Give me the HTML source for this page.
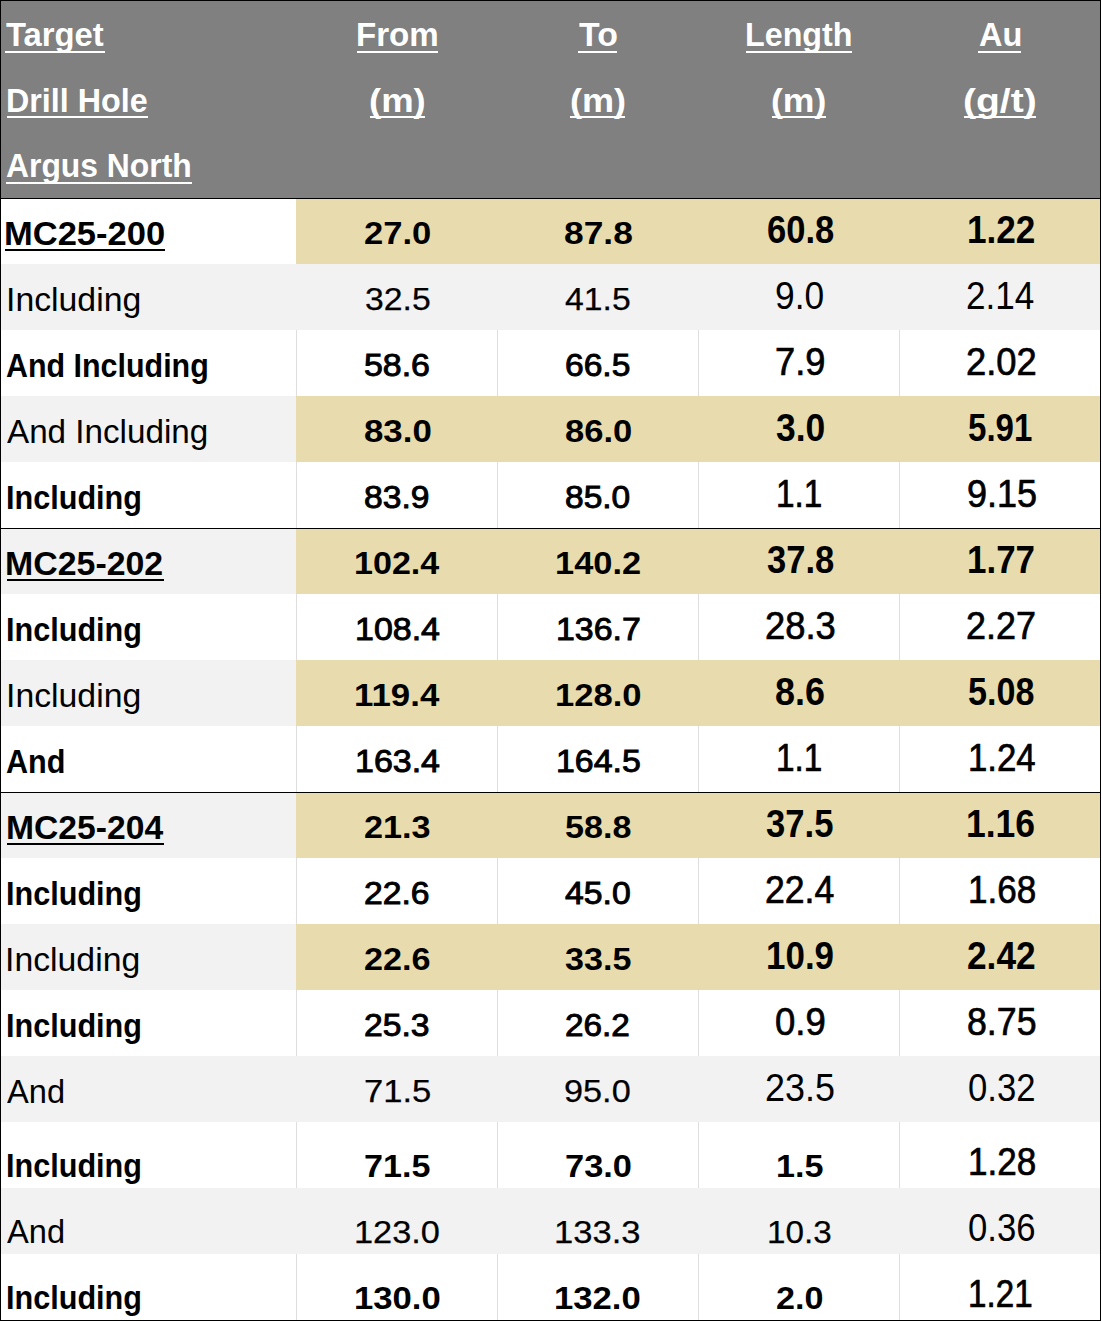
<!DOCTYPE html>
<html><head><meta charset="utf-8"><style>
html,body{margin:0;padding:0;background:#fff;width:1102px;height:1322px;overflow:hidden;}
body{position:relative;font-family:"Liberation Sans",sans-serif;}
.b{position:absolute;}
.t{position:absolute;white-space:nowrap;height:0;line-height:0;transform-origin:0 0;}
</style></head><body>
<div class="b" style="left:0;top:0;width:1101px;height:198px;background:#808080"></div>
<div class="b" style="left:1px;top:198px;width:295px;height:66px;background:#FFFFFF"></div>
<div class="b" style="left:296px;top:198px;width:804px;height:66px;background:#E8DBAD"></div>
<div class="b" style="left:1px;top:264px;width:295px;height:66px;background:#F2F2F2"></div>
<div class="b" style="left:296px;top:264px;width:804px;height:66px;background:#F2F2F2"></div>
<div class="b" style="left:1px;top:330px;width:295px;height:66px;background:#FFFFFF"></div>
<div class="b" style="left:296px;top:330px;width:804px;height:66px;background:#FFFFFF"></div>
<div class="b" style="left:296px;top:330px;width:1px;height:66px;background:#DEDEDE"></div>
<div class="b" style="left:497px;top:330px;width:1px;height:66px;background:#DEDEDE"></div>
<div class="b" style="left:698px;top:330px;width:1px;height:66px;background:#DEDEDE"></div>
<div class="b" style="left:899px;top:330px;width:1px;height:66px;background:#DEDEDE"></div>
<div class="b" style="left:1px;top:396px;width:295px;height:66px;background:#F2F2F2"></div>
<div class="b" style="left:296px;top:396px;width:804px;height:66px;background:#E8DBAD"></div>
<div class="b" style="left:1px;top:462px;width:295px;height:66px;background:#FFFFFF"></div>
<div class="b" style="left:296px;top:462px;width:804px;height:66px;background:#FFFFFF"></div>
<div class="b" style="left:296px;top:462px;width:1px;height:66px;background:#DEDEDE"></div>
<div class="b" style="left:497px;top:462px;width:1px;height:66px;background:#DEDEDE"></div>
<div class="b" style="left:698px;top:462px;width:1px;height:66px;background:#DEDEDE"></div>
<div class="b" style="left:899px;top:462px;width:1px;height:66px;background:#DEDEDE"></div>
<div class="b" style="left:1px;top:528px;width:295px;height:66px;background:#F2F2F2"></div>
<div class="b" style="left:296px;top:528px;width:804px;height:66px;background:#E8DBAD"></div>
<div class="b" style="left:1px;top:594px;width:295px;height:66px;background:#FFFFFF"></div>
<div class="b" style="left:296px;top:594px;width:804px;height:66px;background:#FFFFFF"></div>
<div class="b" style="left:296px;top:594px;width:1px;height:66px;background:#DEDEDE"></div>
<div class="b" style="left:497px;top:594px;width:1px;height:66px;background:#DEDEDE"></div>
<div class="b" style="left:698px;top:594px;width:1px;height:66px;background:#DEDEDE"></div>
<div class="b" style="left:899px;top:594px;width:1px;height:66px;background:#DEDEDE"></div>
<div class="b" style="left:1px;top:660px;width:295px;height:66px;background:#F2F2F2"></div>
<div class="b" style="left:296px;top:660px;width:804px;height:66px;background:#E8DBAD"></div>
<div class="b" style="left:1px;top:726px;width:295px;height:66px;background:#FFFFFF"></div>
<div class="b" style="left:296px;top:726px;width:804px;height:66px;background:#FFFFFF"></div>
<div class="b" style="left:296px;top:726px;width:1px;height:66px;background:#DEDEDE"></div>
<div class="b" style="left:497px;top:726px;width:1px;height:66px;background:#DEDEDE"></div>
<div class="b" style="left:698px;top:726px;width:1px;height:66px;background:#DEDEDE"></div>
<div class="b" style="left:899px;top:726px;width:1px;height:66px;background:#DEDEDE"></div>
<div class="b" style="left:1px;top:792px;width:295px;height:66px;background:#F2F2F2"></div>
<div class="b" style="left:296px;top:792px;width:804px;height:66px;background:#E8DBAD"></div>
<div class="b" style="left:1px;top:858px;width:295px;height:66px;background:#FFFFFF"></div>
<div class="b" style="left:296px;top:858px;width:804px;height:66px;background:#FFFFFF"></div>
<div class="b" style="left:296px;top:858px;width:1px;height:66px;background:#DEDEDE"></div>
<div class="b" style="left:497px;top:858px;width:1px;height:66px;background:#DEDEDE"></div>
<div class="b" style="left:698px;top:858px;width:1px;height:66px;background:#DEDEDE"></div>
<div class="b" style="left:899px;top:858px;width:1px;height:66px;background:#DEDEDE"></div>
<div class="b" style="left:1px;top:924px;width:295px;height:66px;background:#F2F2F2"></div>
<div class="b" style="left:296px;top:924px;width:804px;height:66px;background:#E8DBAD"></div>
<div class="b" style="left:1px;top:990px;width:295px;height:66px;background:#FFFFFF"></div>
<div class="b" style="left:296px;top:990px;width:804px;height:66px;background:#FFFFFF"></div>
<div class="b" style="left:296px;top:990px;width:1px;height:66px;background:#DEDEDE"></div>
<div class="b" style="left:497px;top:990px;width:1px;height:66px;background:#DEDEDE"></div>
<div class="b" style="left:698px;top:990px;width:1px;height:66px;background:#DEDEDE"></div>
<div class="b" style="left:899px;top:990px;width:1px;height:66px;background:#DEDEDE"></div>
<div class="b" style="left:1px;top:1056px;width:295px;height:66px;background:#F2F2F2"></div>
<div class="b" style="left:296px;top:1056px;width:804px;height:66px;background:#F2F2F2"></div>
<div class="b" style="left:1px;top:1122px;width:295px;height:66px;background:#FFFFFF"></div>
<div class="b" style="left:296px;top:1122px;width:804px;height:66px;background:#FFFFFF"></div>
<div class="b" style="left:296px;top:1122px;width:1px;height:66px;background:#DEDEDE"></div>
<div class="b" style="left:497px;top:1122px;width:1px;height:66px;background:#DEDEDE"></div>
<div class="b" style="left:698px;top:1122px;width:1px;height:66px;background:#DEDEDE"></div>
<div class="b" style="left:899px;top:1122px;width:1px;height:66px;background:#DEDEDE"></div>
<div class="b" style="left:1px;top:1188px;width:295px;height:66px;background:#F2F2F2"></div>
<div class="b" style="left:296px;top:1188px;width:804px;height:66px;background:#F2F2F2"></div>
<div class="b" style="left:1px;top:1254px;width:295px;height:66px;background:#FFFFFF"></div>
<div class="b" style="left:296px;top:1254px;width:804px;height:66px;background:#FFFFFF"></div>
<div class="b" style="left:296px;top:1254px;width:1px;height:66px;background:#DEDEDE"></div>
<div class="b" style="left:497px;top:1254px;width:1px;height:66px;background:#DEDEDE"></div>
<div class="b" style="left:698px;top:1254px;width:1px;height:66px;background:#DEDEDE"></div>
<div class="b" style="left:899px;top:1254px;width:1px;height:66px;background:#DEDEDE"></div>
<div class="b" style="left:0;top:0px;width:1101px;height:1px;background:#000"></div>
<div class="b" style="left:0;top:198px;width:1101px;height:1px;background:#000"></div>
<div class="b" style="left:0;top:528px;width:1101px;height:1px;background:#000"></div>
<div class="b" style="left:0;top:792px;width:1101px;height:1px;background:#000"></div>
<div class="b" style="left:0;top:1320px;width:1101px;height:1px;background:#000"></div>
<div class="b" style="left:0px;top:0;width:1px;height:1321px;background:#000"></div>
<div class="b" style="left:1100px;top:0;width:1px;height:1321px;background:#000"></div>
<div class="t" style="left:6.40px;top:35.37px;font-size:33.00px;font-weight:700;color:#fff;transform:scaleX(0.9936);">Target</div>
<div class="b" style="left:5.4px;top:51px;width:99.6px;height:2px;background:#fff"></div>
<div class="t" style="left:6.18px;top:101.07px;font-size:33.00px;font-weight:700;color:#fff;transform:scaleX(0.9778);">Drill Hole</div>
<div class="b" style="left:7.2px;top:116px;width:140.8px;height:2px;background:#fff"></div>
<div class="t" style="left:6.40px;top:166.47px;font-size:33.00px;font-weight:700;color:#fff;transform:scaleX(0.9651);">Argus North</div>
<div class="b" style="left:5.9px;top:182px;width:185.7px;height:2px;background:#fff"></div>
<div class="t" style="left:355.93px;top:35.37px;font-size:33.00px;font-weight:700;color:#fff;transform:scaleX(1.0037);">From</div>
<div class="b" style="left:357.0px;top:51px;width:80.7px;height:2px;background:#fff"></div>
<div class="t" style="left:368.79px;top:101.07px;font-size:33.00px;font-weight:700;color:#fff;transform:scaleX(1.1055);">(m)</div>
<div class="b" style="left:369.5px;top:116px;width:55.7px;height:2px;background:#fff"></div>
<div class="t" style="left:578.70px;top:35.37px;font-size:33.00px;font-weight:700;color:#fff;transform:scaleX(1.0250);">To</div>
<div class="b" style="left:577.7px;top:51px;width:39.7px;height:2px;background:#fff"></div>
<div class="t" style="left:569.71px;top:101.07px;font-size:33.00px;font-weight:700;color:#fff;transform:scaleX(1.0932);">(m)</div>
<div class="b" style="left:570.4px;top:116px;width:55.1px;height:2px;background:#fff"></div>
<div class="t" style="left:745.38px;top:35.37px;font-size:33.00px;font-weight:700;color:#fff;transform:scaleX(0.9774);">Length</div>
<div class="b" style="left:746.4px;top:51px;width:105.9px;height:2px;background:#fff"></div>
<div class="t" style="left:771.13px;top:101.07px;font-size:33.00px;font-weight:700;color:#fff;transform:scaleX(1.0787);">(m)</div>
<div class="b" style="left:771.8px;top:116px;width:54.4px;height:2px;background:#fff"></div>
<div class="t" style="left:978.69px;top:35.37px;font-size:33.00px;font-weight:700;color:#fff;transform:scaleX(0.9841);">Au</div>
<div class="b" style="left:978.2px;top:51px;width:42.7px;height:2px;background:#fff"></div>
<div class="t" style="left:962.67px;top:101.07px;font-size:33.00px;font-weight:700;color:#fff;transform:scaleX(1.1823);">(g/t)</div>
<div class="b" style="left:963.5px;top:116px;width:72.4px;height:2px;background:#fff"></div>
<div class="t" style="left:4.24px;top:233.52px;font-size:33.14px;font-weight:700;color:#000;transform:scaleX(1.0416);">MC25-200</div>
<div class="b" style="left:5.4px;top:249px;width:159.6px;height:2px;background:#000"></div>
<div class="t" style="left:364.42px;top:233.11px;font-size:32.00px;font-weight:700;color:#000;transform:scaleX(1.0803);">27.0</div>
<div class="t" style="left:563.90px;top:233.11px;font-size:32.00px;font-weight:700;color:#000;transform:scaleX(1.1044);">87.8</div>
<div class="t" style="left:766.62px;top:229.59px;font-size:38.12px;font-weight:700;color:#000;transform:scaleX(0.9064);">60.8</div>
<div class="t" style="left:967.20px;top:229.59px;font-size:38.12px;font-weight:700;color:#000;transform:scaleX(0.9216);">1.22</div>
<div class="t" style="left:6.06px;top:299.67px;font-size:32.71px;font-weight:400;color:#000;transform:scaleX(1.0328);">Including</div>
<div class="t" style="left:364.58px;top:299.11px;font-size:32.00px;font-weight:400;color:#000;transform:scaleX(1.0542);-webkit-text-stroke:0.25px #000;">32.5</div>
<div class="t" style="left:564.60px;top:299.11px;font-size:32.00px;font-weight:400;color:#000;transform:scaleX(1.0538);-webkit-text-stroke:0.25px #000;">41.5</div>
<div class="t" style="left:774.94px;top:295.59px;font-size:38.12px;font-weight:400;color:#000;transform:scaleX(0.9274);">9.0</div>
<div class="t" style="left:966.35px;top:295.59px;font-size:38.12px;font-weight:400;color:#000;transform:scaleX(0.9209);">2.14</div>
<div class="t" style="left:6.02px;top:365.52px;font-size:33.14px;font-weight:700;color:#000;transform:scaleX(0.9182);">And Including</div>
<div class="t" style="left:364.44px;top:365.11px;font-size:32.00px;font-weight:400;color:#000;transform:scaleX(1.0585);-webkit-text-stroke:0.95px #000;">58.6</div>
<div class="t" style="left:564.52px;top:365.11px;font-size:32.00px;font-weight:400;color:#000;transform:scaleX(1.0491);-webkit-text-stroke:0.95px #000;">66.5</div>
<div class="t" style="left:774.93px;top:361.59px;font-size:38.12px;font-weight:400;color:#000;transform:scaleX(0.9513);-webkit-text-stroke:0.7px #000;">7.9</div>
<div class="t" style="left:965.93px;top:361.59px;font-size:38.12px;font-weight:400;color:#000;transform:scaleX(0.9545);-webkit-text-stroke:0.7px #000;">2.02</div>
<div class="t" style="left:7.00px;top:431.67px;font-size:32.71px;font-weight:400;color:#000;transform:scaleX(1.0153);">And Including</div>
<div class="t" style="left:363.91px;top:431.11px;font-size:32.00px;font-weight:700;color:#000;transform:scaleX(1.0886);">83.0</div>
<div class="t" style="left:564.52px;top:431.11px;font-size:32.00px;font-weight:700;color:#000;transform:scaleX(1.0803);">86.0</div>
<div class="t" style="left:776.35px;top:427.59px;font-size:38.12px;font-weight:700;color:#000;transform:scaleX(0.9303);">3.0</div>
<div class="t" style="left:968.28px;top:427.59px;font-size:38.12px;font-weight:700;color:#000;transform:scaleX(0.8673);">5.91</div>
<div class="t" style="left:5.69px;top:497.52px;font-size:33.14px;font-weight:700;color:#000;transform:scaleX(0.9240);">Including</div>
<div class="t" style="left:364.45px;top:497.11px;font-size:32.00px;font-weight:400;color:#000;transform:scaleX(1.0503);-webkit-text-stroke:0.95px #000;">83.9</div>
<div class="t" style="left:565.05px;top:497.11px;font-size:32.00px;font-weight:400;color:#000;transform:scaleX(1.0466);-webkit-text-stroke:0.95px #000;">85.0</div>
<div class="t" style="left:775.92px;top:493.59px;font-size:38.12px;font-weight:400;color:#000;transform:scaleX(0.8762);-webkit-text-stroke:0.7px #000;">1.1</div>
<div class="t" style="left:966.64px;top:493.59px;font-size:38.12px;font-weight:400;color:#000;transform:scaleX(0.9448);-webkit-text-stroke:0.7px #000;">9.15</div>
<div class="t" style="left:5.48px;top:563.52px;font-size:33.14px;font-weight:700;color:#000;transform:scaleX(1.0229);">MC25-202</div>
<div class="b" style="left:6.6px;top:579px;width:157.3px;height:2px;background:#000"></div>
<div class="t" style="left:353.87px;top:563.11px;font-size:32.00px;font-weight:700;color:#000;transform:scaleX(1.0641);">102.4</div>
<div class="t" style="left:554.75px;top:563.11px;font-size:32.00px;font-weight:700;color:#000;transform:scaleX(1.0753);">140.2</div>
<div class="t" style="left:767.06px;top:559.59px;font-size:38.12px;font-weight:700;color:#000;transform:scaleX(0.9072);">37.8</div>
<div class="t" style="left:967.22px;top:559.59px;font-size:38.12px;font-weight:700;color:#000;transform:scaleX(0.9166);">1.77</div>
<div class="t" style="left:5.69px;top:629.52px;font-size:33.14px;font-weight:700;color:#000;transform:scaleX(0.9240);">Including</div>
<div class="t" style="left:355.18px;top:629.11px;font-size:32.00px;font-weight:400;color:#000;transform:scaleX(1.0610);-webkit-text-stroke:0.95px #000;">108.4</div>
<div class="t" style="left:556.09px;top:629.11px;font-size:32.00px;font-weight:400;color:#000;transform:scaleX(1.0588);-webkit-text-stroke:0.95px #000;">136.7</div>
<div class="t" style="left:764.73px;top:625.59px;font-size:38.12px;font-weight:400;color:#000;transform:scaleX(0.9545);-webkit-text-stroke:0.7px #000;">28.3</div>
<div class="t" style="left:965.95px;top:625.59px;font-size:38.12px;font-weight:400;color:#000;transform:scaleX(0.9420);-webkit-text-stroke:0.7px #000;">2.27</div>
<div class="t" style="left:6.06px;top:695.67px;font-size:32.71px;font-weight:400;color:#000;transform:scaleX(1.0328);">Including</div>
<div class="t" style="left:353.82px;top:695.11px;font-size:32.00px;font-weight:700;color:#000;transform:scaleX(1.0887);">119.4</div>
<div class="t" style="left:554.84px;top:695.11px;font-size:32.00px;font-weight:700;color:#000;transform:scaleX(1.0810);">128.0</div>
<div class="t" style="left:775.18px;top:691.59px;font-size:38.12px;font-weight:700;color:#000;transform:scaleX(0.9421);">8.6</div>
<div class="t" style="left:968.27px;top:691.59px;font-size:38.12px;font-weight:700;color:#000;transform:scaleX(0.8948);">5.08</div>
<div class="t" style="left:6.02px;top:761.52px;font-size:33.14px;font-weight:700;color:#000;transform:scaleX(0.9243);">And</div>
<div class="t" style="left:355.18px;top:761.11px;font-size:32.00px;font-weight:400;color:#000;transform:scaleX(1.0610);-webkit-text-stroke:0.95px #000;">163.4</div>
<div class="t" style="left:556.09px;top:761.11px;font-size:32.00px;font-weight:400;color:#000;transform:scaleX(1.0588);-webkit-text-stroke:0.95px #000;">164.5</div>
<div class="t" style="left:775.92px;top:757.59px;font-size:38.12px;font-weight:400;color:#000;transform:scaleX(0.8762);-webkit-text-stroke:0.7px #000;">1.1</div>
<div class="t" style="left:967.55px;top:757.59px;font-size:38.12px;font-weight:400;color:#000;transform:scaleX(0.9126);-webkit-text-stroke:0.7px #000;">1.24</div>
<div class="t" style="left:5.50px;top:827.52px;font-size:33.14px;font-weight:700;color:#000;transform:scaleX(1.0160);">MC25-204</div>
<div class="b" style="left:6.6px;top:843px;width:157.3px;height:2px;background:#000"></div>
<div class="t" style="left:364.23px;top:827.11px;font-size:32.00px;font-weight:700;color:#000;transform:scaleX(1.0697);">21.3</div>
<div class="t" style="left:565.47px;top:827.11px;font-size:32.00px;font-weight:700;color:#000;transform:scaleX(1.0658);">58.8</div>
<div class="t" style="left:766.46px;top:823.59px;font-size:38.12px;font-weight:700;color:#000;transform:scaleX(0.9086);">37.5</div>
<div class="t" style="left:966.08px;top:823.59px;font-size:38.12px;font-weight:700;color:#000;transform:scaleX(0.9315);">1.16</div>
<div class="t" style="left:5.69px;top:893.52px;font-size:33.14px;font-weight:700;color:#000;transform:scaleX(0.9240);">Including</div>
<div class="t" style="left:364.22px;top:893.11px;font-size:32.00px;font-weight:400;color:#000;transform:scaleX(1.0524);-webkit-text-stroke:0.95px #000;">22.6</div>
<div class="t" style="left:564.97px;top:893.11px;font-size:32.00px;font-weight:400;color:#000;transform:scaleX(1.0543);-webkit-text-stroke:0.95px #000;">45.0</div>
<div class="t" style="left:764.76px;top:889.59px;font-size:38.12px;font-weight:400;color:#000;transform:scaleX(0.9342);-webkit-text-stroke:0.7px #000;">22.4</div>
<div class="t" style="left:967.53px;top:889.59px;font-size:38.12px;font-weight:400;color:#000;transform:scaleX(0.9203);-webkit-text-stroke:0.7px #000;">1.68</div>
<div class="t" style="left:4.96px;top:959.67px;font-size:32.71px;font-weight:400;color:#000;transform:scaleX(1.0328);">Including</div>
<div class="t" style="left:364.23px;top:959.11px;font-size:32.00px;font-weight:700;color:#000;transform:scaleX(1.0697);">22.6</div>
<div class="t" style="left:565.47px;top:959.11px;font-size:32.00px;font-weight:700;color:#000;transform:scaleX(1.0658);">33.5</div>
<div class="t" style="left:766.31px;top:955.59px;font-size:38.12px;font-weight:700;color:#000;transform:scaleX(0.9174);">10.9</div>
<div class="t" style="left:966.90px;top:955.59px;font-size:38.12px;font-weight:700;color:#000;transform:scaleX(0.9258);">2.42</div>
<div class="t" style="left:5.69px;top:1025.52px;font-size:33.14px;font-weight:700;color:#000;transform:scaleX(0.9240);">Including</div>
<div class="t" style="left:364.22px;top:1025.11px;font-size:32.00px;font-weight:400;color:#000;transform:scaleX(1.0524);-webkit-text-stroke:0.95px #000;">25.3</div>
<div class="t" style="left:564.93px;top:1025.11px;font-size:32.00px;font-weight:400;color:#000;transform:scaleX(1.0408);-webkit-text-stroke:0.95px #000;">26.2</div>
<div class="t" style="left:774.59px;top:1021.59px;font-size:38.12px;font-weight:400;color:#000;transform:scaleX(0.9578);-webkit-text-stroke:0.7px #000;">0.9</div>
<div class="t" style="left:967.21px;top:1021.59px;font-size:38.12px;font-weight:400;color:#000;transform:scaleX(0.9370);-webkit-text-stroke:0.7px #000;">8.75</div>
<div class="t" style="left:7.00px;top:1091.67px;font-size:32.71px;font-weight:400;color:#000;transform:scaleX(0.9971);">And</div>
<div class="t" style="left:363.87px;top:1091.11px;font-size:32.00px;font-weight:400;color:#000;transform:scaleX(1.0798);-webkit-text-stroke:0.25px #000;">71.5</div>
<div class="t" style="left:564.28px;top:1091.11px;font-size:32.00px;font-weight:400;color:#000;transform:scaleX(1.0708);-webkit-text-stroke:0.25px #000;">95.0</div>
<div class="t" style="left:765.02px;top:1087.59px;font-size:38.12px;font-weight:400;color:#000;transform:scaleX(0.9428);">23.5</div>
<div class="t" style="left:967.72px;top:1087.59px;font-size:38.12px;font-weight:400;color:#000;transform:scaleX(0.9098);">0.32</div>
<div class="t" style="left:5.69px;top:1166.22px;font-size:33.14px;font-weight:700;color:#000;transform:scaleX(0.9240);">Including</div>
<div class="t" style="left:364.28px;top:1165.81px;font-size:32.00px;font-weight:700;color:#000;transform:scaleX(1.0664);">71.5</div>
<div class="t" style="left:564.67px;top:1165.81px;font-size:32.00px;font-weight:700;color:#000;transform:scaleX(1.0753);">73.0</div>
<div class="t" style="left:775.57px;top:1165.81px;font-size:32.00px;font-weight:700;color:#000;transform:scaleX(1.0675);">1.5</div>
<div class="t" style="left:967.53px;top:1161.99px;font-size:38.12px;font-weight:400;color:#000;transform:scaleX(0.9203);-webkit-text-stroke:0.7px #000;">1.28</div>
<div class="t" style="left:6.50px;top:1232.37px;font-size:32.71px;font-weight:400;color:#000;transform:scaleX(0.9971);">And</div>
<div class="t" style="left:353.99px;top:1231.81px;font-size:32.00px;font-weight:400;color:#000;transform:scaleX(1.0731);-webkit-text-stroke:0.25px #000;">123.0</div>
<div class="t" style="left:554.37px;top:1231.81px;font-size:32.00px;font-weight:400;color:#000;transform:scaleX(1.0801);-webkit-text-stroke:0.25px #000;">133.3</div>
<div class="t" style="left:766.55px;top:1231.81px;font-size:32.00px;font-weight:400;color:#000;transform:scaleX(1.0382);-webkit-text-stroke:0.25px #000;">10.3</div>
<div class="t" style="left:967.72px;top:1227.99px;font-size:38.12px;font-weight:400;color:#000;transform:scaleX(0.9098);">0.36</div>
<div class="t" style="left:5.69px;top:1298.22px;font-size:33.14px;font-weight:700;color:#000;transform:scaleX(0.9240);">Including</div>
<div class="t" style="left:353.83px;top:1297.81px;font-size:32.00px;font-weight:700;color:#000;transform:scaleX(1.0836);">130.0</div>
<div class="t" style="left:554.23px;top:1297.81px;font-size:32.00px;font-weight:700;color:#000;transform:scaleX(1.0836);">132.0</div>
<div class="t" style="left:776.13px;top:1297.81px;font-size:32.00px;font-weight:700;color:#000;transform:scaleX(1.0667);">2.0</div>
<div class="t" style="left:967.63px;top:1293.99px;font-size:38.12px;font-weight:400;color:#000;transform:scaleX(0.8710);-webkit-text-stroke:0.7px #000;">1.21</div>
</body></html>
